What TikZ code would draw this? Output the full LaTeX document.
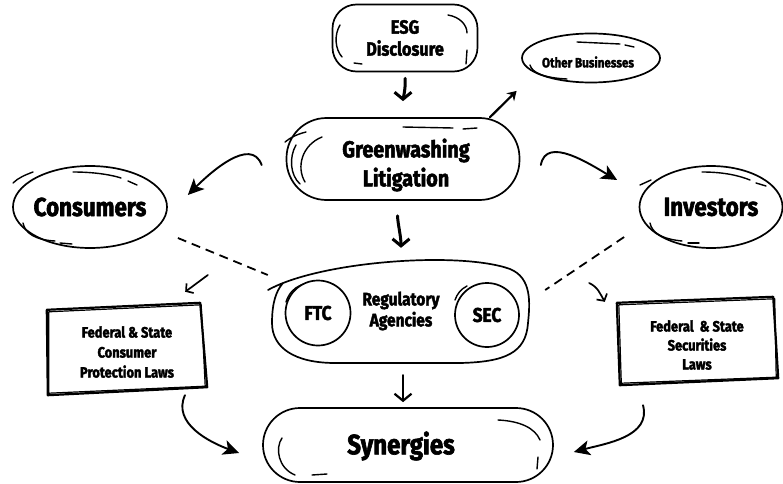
\documentclass[tikz,border=0pt]{standalone}
\usepackage{fontspec}
\setmainfont{Fira Sans}[FakeStretch=0.86,BoldFeatures={FakeBold=2.2}]
\usetikzlibrary{arrows.meta,shapes.geometric,calc}
\begin{document}
\begin{tikzpicture}[x=1pt,y=1pt,
  sk/.style={line width=1.7pt,line cap=round,line join=round},
  skt/.style={line width=1.4pt,line cap=round},
  heavy/.style={sk,line width=1.9pt,-{Stealth[length=16pt,width=15pt,inset=4pt]}},
  barb/.style={line width=3pt,line cap=round,-{Straight Barb[length=7pt,width=17pt]}},
  thinbarb/.style={line width=1.7pt,line cap=round,-{Straight Barb[length=5pt,width=12pt]}},
  dashl/.style={line width=1.8pt,dash pattern=on 9pt off 6pt},
  boxl/.style={line width=2.2pt,line join=round},
  boxt/.style={line width=1.2pt,line join=round},
  txt/.style={align=center,inner sep=0pt},
]
\useasboundingbox (0,0) rectangle (783,483);
\fill[white] (0,0) rectangle (783,483);

% ---------- nodes ----------
\node[sk,draw,rounded corners=24pt,minimum width=145pt,minimum height=67pt,txt,
  font=\fontsize{19}{22}\selectfont\bfseries] (esg) at (405,445) {ESG\\Disclosure};
\node[sk,draw,ellipse,minimum width=138pt,minimum height=49pt,inner sep=0pt,
  label={[txt,font=\fontsize{13.5}{15}\selectfont\bfseries,xshift=-3pt,yshift=-4pt]center:Other Businesses}] (oth) at (591,425) {};
\node[sk,draw,rounded corners=40pt,minimum width=233pt,minimum height=82pt,
  label={[txt,font=\fontsize{23}{29}\selectfont\bfseries,xshift=3pt,yshift=-6pt]center:Greenwashing\\Litigation}] (gl) at (403,324) {};
\node[sk,draw,ellipse,minimum width=154pt,minimum height=82pt,txt,
  font=\fontsize{26}{30}\selectfont\bfseries] (con) at (90,276) {\makebox[0pt]{Consumers}};
\node[sk,draw,ellipse,minimum width=143pt,minimum height=82pt,txt,
  font=\fontsize{26}{30}\selectfont\bfseries] (inv) at (711,276) {\makebox[0pt]{Investors}};
\node[minimum width=256pt,minimum height=103pt,txt,
  font=\fontsize{18}{21}\selectfont\bfseries] (reg) at (401,172) {Regulatory\\Agencies};
\node[sk,draw,circle,minimum size=65pt,txt,
  font=\fontsize{20}{22}\selectfont\bfseries] (ftc) at (318,170) {FTC};
\node[sk,draw,circle,minimum size=64pt,txt,
  font=\fontsize{20}{22}\selectfont\bfseries] (sec) at (487,168) {SEC};
\node[minimum width=160pt,minimum height=88pt,txt,
  font=\fontsize{15}{20}\selectfont\bfseries] (lb) at (127,131) {Federal \& State\\Consumer\\Protection Laws};
\node[minimum width=161pt,minimum height=88pt,txt,
  font=\fontsize{15}{19}\selectfont\bfseries] (rb) at (697,138) {Federal\ \ \& State\\Securities\\Laws};
\node[sk,draw,rounded corners=37pt,minimum width=290pt,minimum height=74pt,
  label={[txt,font=\fontsize{28}{30}\selectfont\bfseries,xshift=-7pt,yshift=-1pt]center:Synergies}] (syn) at (408,38) {};

% ---------- outlines drawn by hand ----------
% Regulatory Agencies
\draw[sk] (268,193) .. controls (320,222) and (460,232) .. (510,214)
  .. controls (532,205) and (530,180) .. (528,160)
  .. controls (526,130) and (505,121) .. (460,120) -- (335,120)
  .. controls (295,120) and (272,135) .. (272,160)
  .. controls (272,180) and (276,192) .. (283,200);
% law boxes
\draw[boxl] ([shift={(0,-2)}]lb.north west) -- ([shift={(-7,5)}]lb.north east)
  -- ([shift={(0,9)}]lb.south east) -- ([shift={(1,1)}]lb.south west) -- cycle;
\draw[boxt] ([shift={(2,-4)}]lb.north west) -- ([shift={(-6,3)}]lb.north east)
  -- ([shift={(-2,10)}]lb.south east) -- ([shift={(2,3)}]lb.south west) -- cycle;
\draw[boxl] ([shift={(0.5,-2)}]rb.north west) -- ([shift={(-4.5,4)}]rb.north east)
  -- ([shift={(0.5,11)}]rb.south east) -- ([shift={(3.5,4)}]rb.south west) -- cycle;
\draw[boxt] ([shift={(2.5,-4)}]rb.north west) -- ([shift={(-3,2)}]rb.north east)
  -- ([shift={(-1.5,12)}]rb.south east) -- ([shift={(5,6)}]rb.south west) -- cycle;

% ---------- sketch strokes ----------
% ESG
\draw[skt] (340,458) .. controls (334,448) and (335,434) .. (342,426);
\draw[skt] (354,420) -- (362,419);
\draw[skt] (448,468) .. controls (460,466) and (467,458) .. (467,450);
\draw[skt] (467,433) -- (466,419);
% Other Businesses
\draw[skt] (577,441) -- (620,439);
\draw[skt] (625,438) -- (634,436);
\draw[skt] (530,418) .. controls (532,410) and (545,405) .. (567,404);
% Greenwashing
\draw[skt] (285,341) .. controls (291,346) and (298,349) .. (306,351);
\draw[skt] (296,338) .. controls (289,326) and (290,308) .. (300,299);
\draw[skt] (322,346) .. controls (302,338) and (296,316) .. (305,301);
\draw[skt] (403,356) -- (453,355);
\draw[skt] (463,354) -- (477,355);
% Consumers
\draw[skt] (13,300) .. controls (18,305) and (25,308) .. (33,311);
\draw[skt] (73,311) .. controls (95,311) and (112,308) .. (121,305);
\draw[skt] (128,302) -- (137,298);
\draw[skt] (23,260) .. controls (25,250) and (35,243) .. (55,242);
\draw[skt] (60,240) -- (72,239);
% Investors
\draw[skt] (640,298) -- (651,303);
\draw[skt] (702,311) .. controls (725,311) and (740,307) .. (750,303);
\draw[skt] (756,300) -- (766,297);
\draw[skt] (650,260) .. controls (652,250) and (662,244) .. (682,242);
\draw[skt] (688,240) -- (699,240);
% FTC / SEC
\draw[skt] (286,181) .. controls (289,190) and (294,195) .. (301,198);
\draw[skt] (455,183) .. controls (457,189) and (461,194) .. (467,197);
% Synergies
\draw[skt] (282,45) .. controls (275,35) and (278,15) .. (295,8);
\draw[skt] (312,8) -- (327,9);
\draw[skt] (498,63) .. controls (520,62) and (535,55) .. (540,43);
\draw[skt] (538,26) -- (537,14);

% ---------- connectors ----------
\draw[barb,shorten <=6pt,shorten >=16pt] (esg.south) to[out=-88,in=90] (gl.north);
\draw[line width=2.2pt,line cap=round,-{Stealth[length=9pt,width=11pt,inset=3pt]}] ([xshift=87pt]gl.north) -- ([shift={(-25pt,-15pt)}]oth.south west);
\draw[heavy] ([shift={(-24pt,-6pt)}]gl.west) to[out=110,in=45] ([shift={(20pt,12pt)}]con.east);
\draw[heavy] ([shift={(20.5pt,-6pt)}]gl.east) to[out=80,in=150] ([shift={(-21.5pt,27pt)}]inv.west);
\draw[barb,shorten <=15pt,shorten >=11.5pt] ([xshift=-6pt]gl.south) to[out=-88,in=90] (reg.north);
\draw[dashl] ([shift={(10pt,-31pt)}]con.east) -- ([shift={(-5pt,36pt)}]reg.west);
\draw[dashl] ([shift={(-14.5pt,-30pt)}]inv.west) -- ([shift={(16pt,21pt)}]reg.east);
\draw[thinbarb] ([shift={(40pt,-68pt)}]con.east) -- ([shift={(-22pt,16pt)}]lb.north east);
\draw[thinbarb] ([shift={(-49.5pt,-76pt)}]inv.west) to[out=-25,in=120] ([shift={(-11.5pt,-1pt)}]rb.north west);
\draw[barb,line width=2.2pt,shorten <=12.5pt,shorten >=5pt] ([xshift=2pt]reg.south) -- ([xshift=-5pt]syn.north);
\draw[heavy] ([shift={(58pt,1pt)}]lb.south) to[out=-115,in=160] ([shift={(-23pt,-8pt)}]syn.west);
\draw[heavy] ([shift={(-54pt,-16pt)}]rb.south) to[out=-75,in=15] ([shift={(20pt,-7pt)}]syn.east);
\end{tikzpicture}
\end{document}
